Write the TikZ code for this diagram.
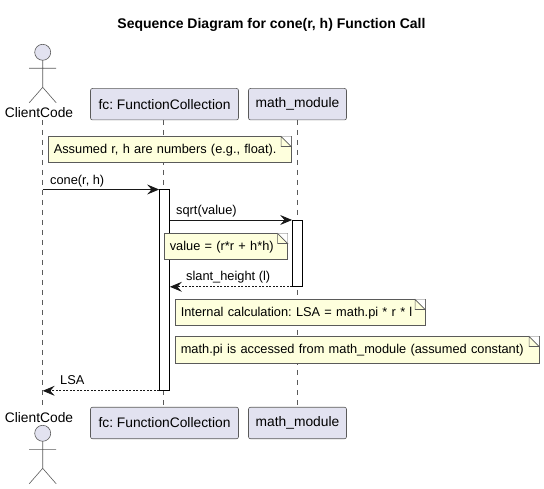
\documentclass[tikz,border=0pt]{standalone}
\usepackage{fontspec}
\setmainfont{Liberation Sans}
\usetikzlibrary{arrows.meta,calc}
\frenchspacing
\definecolor{partfill}{HTML}{E2E2F0}
\definecolor{notefill}{HTML}{FEFFDD}
\definecolor{partline}{HTML}{5A5A5A}
\definecolor{ink}{HTML}{181818}
\tikzset{
	part/.style={draw=partline,fill=partfill,rounded corners=2pt,line width=.6pt,minimum height=31.5pt,inner sep=0pt,font=\fontsize{13.8}{16}\selectfont},
	actorname/.style={inner sep=0pt,font=\fontsize{13.8}{16}\selectfont},
	lifeline/.style={draw=partline,line width=.5pt,dash pattern=on 5pt off 5pt},
	notebox/.style={draw=partline,fill=notefill,line width=.6pt,anchor=north west,inner sep=0pt,minimum height=26pt,text height=9.5pt,text depth=2pt,font=\fontsize{12.8}{14}\selectfont},
	bar/.style={draw=black,fill=white,line width=.8pt,minimum width=10pt,inner sep=0pt,anchor=north},
	msg/.style={draw=ink,line width=.8pt,-{Stealth[length=12pt,width=10pt,inset=4.5pt]}},
	reply/.style={msg,dash pattern=on 2pt off 1.5pt},
	msglabel/.style={anchor=west,inner sep=0pt,font=\fontsize{12.8}{14}\selectfont},
}
% fold in the top right corner of a note
\newcommand{\notefold}[1]{
	\fill[white] ($(#1.north east)+(-10,0)$) -- (#1.north east) -- ($(#1.north east)+(0,10)$) -- cycle;
	\draw[partline,line width=.6pt,fill=notefill] ($(#1.north east)+(-10,0)$) -- ($(#1.north east)+(-10,10)$) -- ($(#1.north east)+(0,10)$) -- cycle;
}
% stick figure, head centred on #1
\newcommand{\stickactor}[1]{
	\draw[partline,line width=.6pt,fill=partfill] (#1) circle (8);
	\draw[partline,line width=.6pt] ($(#1)+(0,8)$) -- ($(#1)+(0,35)$) -- ($(#1)+(-13.5,50.5)$) ($(#1)+(0,35)$) -- ($(#1)+(13.5,50.5)$) ($(#1)+(-13.5,16)$) -- ($(#1)+(13.5,16)$);
}
\begin{document}
\begin{tikzpicture}[x=1pt,y=-1pt]
	\useasboundingbox (0,0) rectangle (544,489);
	\node[font=\bfseries\fontsize{14}{16}\selectfont] (title) at (271.5,25) {Sequence Diagram for cone(r, h) Function Call};

	% participants, top and bottom
	\node[actorname] (clientTop) at (39,113) {ClientCode};
	\node[part,minimum width=148pt] (fcTop) at (164.5,104.2) {fc: FunctionCollection};
	\node[part,minimum width=98pt] (mathTop) at (297.5,104.2) {math\_module};
	\node[actorname] (clientBottom) at (39,417.5) {ClientCode};
	\node[part,minimum width=148pt] (fcBottom) at (164.5,423) {fc: FunctionCollection};
	\node[part,minimum width=98pt] (mathBottom) at (297.5,423) {math\_module};

	% lifelines
	\coordinate (clientStart) at (42.7,120);
	\coordinate (clientEnd) at (42.7,408);
	\coordinate (fcStart) at (163.5,120);
	\coordinate (fcEnd) at (163.5,407);
	\coordinate (mathStart) at (297.5,120);
	\coordinate (mathEnd) at (297.5,407);
	\draw[lifeline] (clientStart) -- (clientEnd);
	\draw[lifeline] (fcStart) -- (fcEnd);
	\draw[lifeline] (mathStart) -- (mathEnd);

	\stickactor{42.7,52.3}
	\stickactor{42.7,433.3}

	% activation bars
	\node[bar,minimum height=200.5pt] (fcBar) at (164.5,189.5) {};
	\node[bar,minimum height=66pt] (mathBar) at (297.5,220) {};

	% notes
	\node[notebox,minimum width=243pt,text width=243pt] (noteTypes) at (47.5,136.5) {\hspace*{6pt}Assumed r, h are numbers (e.g., float).};
	\notefold{noteTypes}
	\node[notebox,minimum width=123.5pt,text width=123.5pt] (noteValue) at (163.5,233.5) {\hspace*{6pt}value = (r*r + h*h)};
	\notefold{noteValue}
	\node[notebox,minimum width=250pt,text width=250pt] (noteCalc) at (174.5,299.5) {\hspace*{6pt}Internal calculation: LSA = math.pi * r * l};
	\notefold{noteCalc}
	\node[notebox,minimum width=364pt,text width=364pt] (notePi) at (174.5,336.5) {\hspace*{6pt}math.pi is accessed from math\_module (assumed constant)};
	\notefold{notePi}

	% messages
	\coordinate (coneFrom) at (clientStart |- fcBar.north);
	\coordinate (lsaTo) at (clientStart |- fcBar.south);
	\draw[msg] (coneFrom) -- (fcBar.north west);
	\node[msglabel] (coneLabel) at (50,181) {cone(r, h)};
	\draw[msg] (fcBar.east |- mathBar.north) -- (mathBar.north west);
	\node[msglabel] (sqrtLabel) at (176,211) {sqrt(value)};
	\draw[reply] (mathBar.south west) -- (fcBar.east |- mathBar.south);
	\node[msglabel] (slantLabel) at (186,277) {slant\_height (l)};
	\draw[reply] (fcBar.south west) -- (lsaTo);
	\node[msglabel] (lsaLabel) at (60,380.5) {LSA};
\end{tikzpicture}
\end{document}
